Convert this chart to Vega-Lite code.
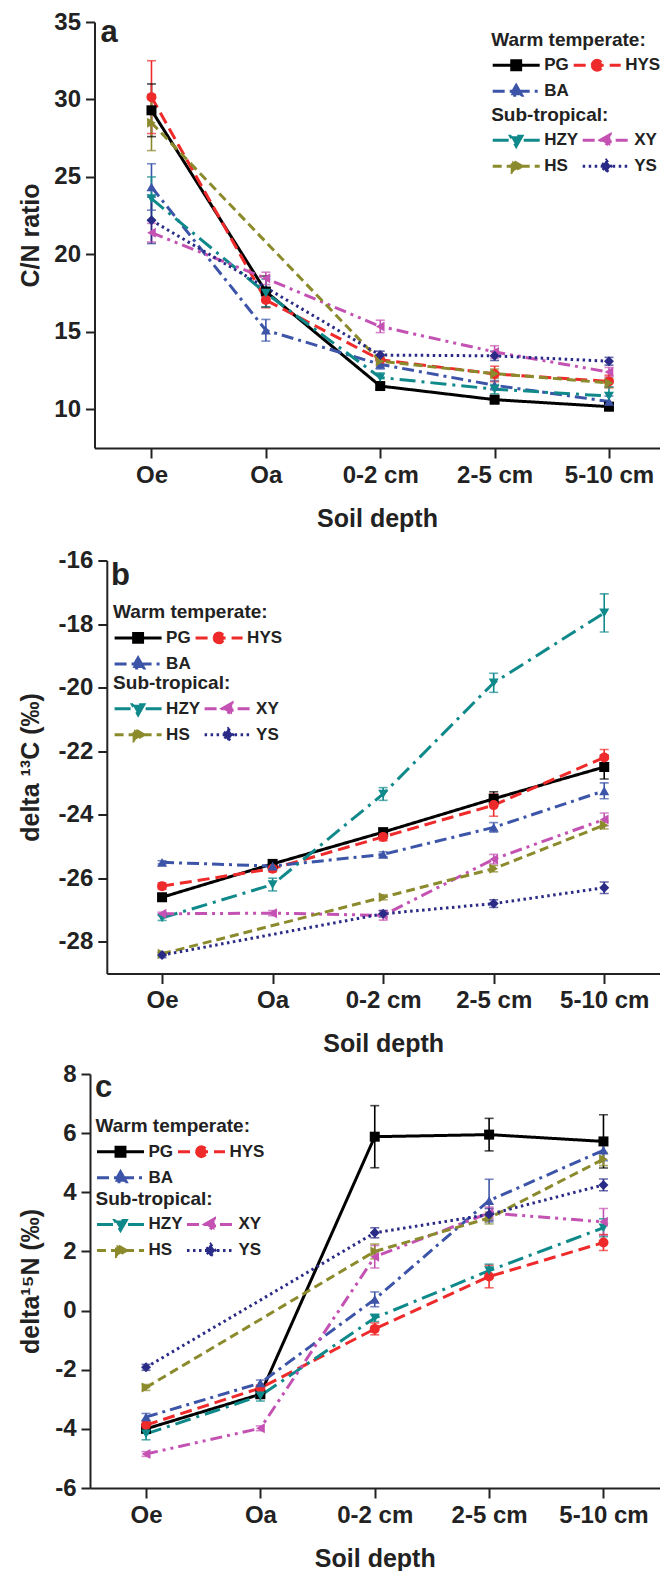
{
  "$schema": "https://vega.github.io/schema/vega-lite/v6.json",
  "padding": {"left": 17, "top": 10, "right": 0, "bottom": 0},
  "background": "white",
  "config": {
    "view": {"stroke": null},
    "font": "Liberation Sans",
    "axis": {"domainColor": "#222", "domainWidth": 2, "tickColor": "#222", "tickWidth": 2, "labelFont": "Liberation Sans", "labelFontWeight": "bold", "labelColor": "#222", "labelFontSize": 24, "titleFont": "Liberation Sans", "titleFontWeight": "bold", "titleColor": "#222", "titleFontSize": 25, "grid": false},
    "axisX": {"tickSize": 10, "labelPadding": 5, "titlePadding": 19, "labelAngle": 0},
    "axisY": {"tickSize": 9, "labelPadding": 5, "titleAngle": 270, "titleBaseline": "alphabetic"},
    "legend": {"padding": 0, "columns": 2, "symbolDirection": "horizontal", "columnPadding": 3, "rowPadding": 8, "clipHeight": 18, "symbolSize": 2209, "symbolStrokeWidth": 3, "symbolOpacity": 1, "labelOffset": 3, "labelFontSize": 17, "labelFont": "Liberation Sans", "labelFontWeight": "bold", "labelColor": "#222", "titleFontSize": 19, "titleFont": "Liberation Sans", "titleFontWeight": "bold", "titleColor": "#222", "titlePadding": 6.8, "titleLimit": 400, "labelLimit": 200}
  },
  "datasets": {
    "cn": [
      {"site": "PG", "depth": "Oe", "mean": 29.3, "lo": 27.6, "hi": 31.0},
      {"site": "PG", "depth": "Oa", "mean": 17.6, "lo": 16.6, "hi": 18.6},
      {"site": "PG", "depth": "0-2 cm", "mean": 11.5, "lo": 11.3, "hi": 11.7},
      {"site": "PG", "depth": "2-5 cm", "mean": 10.62, "lo": 10.37, "hi": 10.87},
      {"site": "PG", "depth": "5-10 cm", "mean": 10.17, "lo": 9.92, "hi": 10.42},
      {"site": "HYS", "depth": "Oe", "mean": 30.15, "lo": 27.8, "hi": 32.5},
      {"site": "HYS", "depth": "Oa", "mean": 17.05, "lo": 16.55, "hi": 17.55},
      {"site": "HYS", "depth": "0-2 cm", "mean": 13.2, "lo": 12.9, "hi": 13.5},
      {"site": "HYS", "depth": "2-5 cm", "mean": 12.28, "lo": 11.78, "hi": 12.78},
      {"site": "HYS", "depth": "5-10 cm", "mean": 11.8, "lo": 11.4, "hi": 12.2},
      {"site": "BA", "depth": "Oe", "mean": 24.35, "lo": 22.85, "hi": 25.85},
      {"site": "BA", "depth": "Oa", "mean": 15.1, "lo": 14.4, "hi": 15.8},
      {"site": "BA", "depth": "0-2 cm", "mean": 12.9, "lo": 12.6, "hi": 13.2},
      {"site": "BA", "depth": "2-5 cm", "mean": 11.55, "lo": 11.25, "hi": 11.85},
      {"site": "BA", "depth": "5-10 cm", "mean": 10.5, "lo": 10.15, "hi": 10.85},
      {"site": "HZY", "depth": "Oe", "mean": 23.6, "lo": 22.2, "hi": 25.0},
      {"site": "HZY", "depth": "Oa", "mean": 17.5, "lo": 16.6, "hi": 18.4},
      {"site": "HZY", "depth": "0-2 cm", "mean": 12.05, "lo": 11.75, "hi": 12.35},
      {"site": "HZY", "depth": "2-5 cm", "mean": 11.3, "lo": 11.0, "hi": 11.6},
      {"site": "HZY", "depth": "5-10 cm", "mean": 10.85, "lo": 10.25, "hi": 11.45},
      {"site": "XY", "depth": "Oe", "mean": 21.4, "lo": 20.8, "hi": 22.0},
      {"site": "XY", "depth": "Oa", "mean": 18.45, "lo": 18.05, "hi": 18.85},
      {"site": "XY", "depth": "0-2 cm", "mean": 15.35, "lo": 14.95, "hi": 15.75},
      {"site": "XY", "depth": "2-5 cm", "mean": 13.7, "lo": 13.3, "hi": 14.1},
      {"site": "XY", "depth": "5-10 cm", "mean": 12.4, "lo": 12.1, "hi": 12.7},
      {"site": "HS", "depth": "Oe", "mean": 28.5, "lo": 26.7, "hi": 30.3},
      {"site": "HS", "depth": "0-2 cm", "mean": 13.1, "lo": 12.8, "hi": 13.4},
      {"site": "HS", "depth": "2-5 cm", "mean": 12.3, "lo": 12.0, "hi": 12.6},
      {"site": "HS", "depth": "5-10 cm", "mean": 11.7, "lo": 11.4, "hi": 12.0},
      {"site": "YS", "depth": "Oe", "mean": 22.2, "lo": 20.7, "hi": 23.7},
      {"site": "YS", "depth": "0-2 cm", "mean": 13.5, "lo": 13.25, "hi": 13.75},
      {"site": "YS", "depth": "2-5 cm", "mean": 13.45, "lo": 13.15, "hi": 13.75},
      {"site": "YS", "depth": "5-10 cm", "mean": 13.1, "lo": 12.85, "hi": 13.35}
    ],
    "c13": [
      {"site": "PG", "depth": "Oe", "mean": -26.6, "lo": -26.7, "hi": -26.5},
      {"site": "PG", "depth": "Oa", "mean": -25.55, "lo": -25.63, "hi": -25.47},
      {"site": "PG", "depth": "0-2 cm", "mean": -24.55, "lo": -24.65, "hi": -24.45},
      {"site": "PG", "depth": "2-5 cm", "mean": -23.5, "lo": -23.72, "hi": -23.28},
      {"site": "PG", "depth": "5-10 cm", "mean": -22.5, "lo": -22.88, "hi": -22.12},
      {"site": "HYS", "depth": "Oe", "mean": -26.25, "lo": -26.35, "hi": -26.15},
      {"site": "HYS", "depth": "Oa", "mean": -25.7, "lo": -25.8, "hi": -25.6},
      {"site": "HYS", "depth": "0-2 cm", "mean": -24.7, "lo": -24.82, "hi": -24.58},
      {"site": "HYS", "depth": "2-5 cm", "mean": -23.7, "lo": -24.05, "hi": -23.35},
      {"site": "HYS", "depth": "5-10 cm", "mean": -22.2, "lo": -22.45, "hi": -21.95},
      {"site": "BA", "depth": "Oe", "mean": -25.5, "lo": -25.55, "hi": -25.45},
      {"site": "BA", "depth": "Oa", "mean": -25.62, "lo": -25.7, "hi": -25.54},
      {"site": "BA", "depth": "0-2 cm", "mean": -25.25, "lo": -25.33, "hi": -25.17},
      {"site": "BA", "depth": "2-5 cm", "mean": -24.4, "lo": -24.55, "hi": -24.25},
      {"site": "BA", "depth": "5-10 cm", "mean": -23.25, "lo": -23.5, "hi": -23.0},
      {"site": "HZY", "depth": "Oe", "mean": -27.25, "lo": -27.33, "hi": -27.17},
      {"site": "HZY", "depth": "Oa", "mean": -26.2, "lo": -26.4, "hi": -26.0},
      {"site": "HZY", "depth": "0-2 cm", "mean": -23.35, "lo": -23.55, "hi": -23.15},
      {"site": "HZY", "depth": "2-5 cm", "mean": -19.85, "lo": -20.15, "hi": -19.55},
      {"site": "HZY", "depth": "5-10 cm", "mean": -17.65, "lo": -18.25, "hi": -17.05},
      {"site": "XY", "depth": "Oe", "mean": -27.12, "lo": -27.17, "hi": -27.07},
      {"site": "XY", "depth": "Oa", "mean": -27.1, "lo": -27.18, "hi": -27.02},
      {"site": "XY", "depth": "0-2 cm", "mean": -27.17, "lo": -27.32, "hi": -27.02},
      {"site": "XY", "depth": "2-5 cm", "mean": -25.4, "lo": -25.55, "hi": -25.25},
      {"site": "XY", "depth": "5-10 cm", "mean": -24.15, "lo": -24.35, "hi": -23.95},
      {"site": "HS", "depth": "Oe", "mean": -28.38, "lo": -28.43, "hi": -28.33},
      {"site": "HS", "depth": "0-2 cm", "mean": -26.6, "lo": -26.68, "hi": -26.52},
      {"site": "HS", "depth": "2-5 cm", "mean": -25.7, "lo": -25.8, "hi": -25.6},
      {"site": "HS", "depth": "5-10 cm", "mean": -24.33, "lo": -24.45, "hi": -24.21},
      {"site": "YS", "depth": "Oe", "mean": -28.42, "lo": -28.5, "hi": -28.34},
      {"site": "YS", "depth": "0-2 cm", "mean": -27.12, "lo": -27.22, "hi": -27.02},
      {"site": "YS", "depth": "2-5 cm", "mean": -26.8, "lo": -26.92, "hi": -26.68},
      {"site": "YS", "depth": "5-10 cm", "mean": -26.3, "lo": -26.48, "hi": -26.12}
    ],
    "n15": [
      {"site": "PG", "depth": "Oe", "mean": -4.0, "lo": -4.1, "hi": -3.9},
      {"site": "PG", "depth": "Oa", "mean": -2.83, "lo": -2.95, "hi": -2.71},
      {"site": "PG", "depth": "0-2 cm", "mean": 5.88, "lo": 4.83, "hi": 6.93},
      {"site": "PG", "depth": "2-5 cm", "mean": 5.95, "lo": 5.4, "hi": 6.5},
      {"site": "PG", "depth": "5-10 cm", "mean": 5.72, "lo": 4.82, "hi": 6.62},
      {"site": "HYS", "depth": "Oe", "mean": -3.87, "lo": -3.99, "hi": -3.75},
      {"site": "HYS", "depth": "Oa", "mean": -2.62, "lo": -2.72, "hi": -2.52},
      {"site": "HYS", "depth": "0-2 cm", "mean": -0.62, "lo": -0.82, "hi": -0.42},
      {"site": "HYS", "depth": "2-5 cm", "mean": 1.15, "lo": 0.77, "hi": 1.53},
      {"site": "HYS", "depth": "5-10 cm", "mean": 2.3, "lo": 2.03, "hi": 2.57},
      {"site": "BA", "depth": "Oe", "mean": -3.6, "lo": -3.72, "hi": -3.48},
      {"site": "BA", "depth": "Oa", "mean": -2.45, "lo": -2.55, "hi": -2.35},
      {"site": "BA", "depth": "0-2 cm", "mean": 0.38, "lo": 0.13, "hi": 0.63},
      {"site": "BA", "depth": "2-5 cm", "mean": 3.72, "lo": 3.0, "hi": 4.44},
      {"site": "BA", "depth": "5-10 cm", "mean": 5.42, "lo": 5.07, "hi": 5.77},
      {"site": "HZY", "depth": "Oe", "mean": -4.17, "lo": -4.37, "hi": -3.97},
      {"site": "HZY", "depth": "Oa", "mean": -2.88, "lo": -3.06, "hi": -2.7},
      {"site": "HZY", "depth": "0-2 cm", "mean": -0.25, "lo": -0.37, "hi": -0.13},
      {"site": "HZY", "depth": "2-5 cm", "mean": 1.35, "lo": 1.13, "hi": 1.57},
      {"site": "HZY", "depth": "5-10 cm", "mean": 2.8, "lo": 2.5, "hi": 3.1},
      {"site": "XY", "depth": "Oe", "mean": -4.85, "lo": -4.93, "hi": -4.77},
      {"site": "XY", "depth": "Oa", "mean": -3.98, "lo": -4.06, "hi": -3.9},
      {"site": "XY", "depth": "0-2 cm", "mean": 1.82, "lo": 1.44, "hi": 2.2},
      {"site": "XY", "depth": "2-5 cm", "mean": 3.3, "lo": 3.1, "hi": 3.5},
      {"site": "XY", "depth": "5-10 cm", "mean": 3.0, "lo": 2.55, "hi": 3.45},
      {"site": "HS", "depth": "Oe", "mean": -2.6, "lo": -2.7, "hi": -2.5},
      {"site": "HS", "depth": "0-2 cm", "mean": 2.0, "lo": 1.75, "hi": 2.25},
      {"site": "HS", "depth": "2-5 cm", "mean": 3.13, "lo": 2.93, "hi": 3.33},
      {"site": "HS", "depth": "5-10 cm", "mean": 5.12, "lo": 4.9, "hi": 5.34},
      {"site": "YS", "depth": "Oe", "mean": -1.92, "lo": -2.02, "hi": -1.82},
      {"site": "YS", "depth": "0-2 cm", "mean": 2.63, "lo": 2.46, "hi": 2.8},
      {"site": "YS", "depth": "2-5 cm", "mean": 3.25, "lo": 3.05, "hi": 3.45},
      {"site": "YS", "depth": "5-10 cm", "mean": 4.25, "lo": 4.05, "hi": 4.45}
    ]
  },
  "concat": [
    {
      "width": 569.5, "height": 426,
      "data": {"name": "cn"},
      "encoding": {"x": {"field": "depth", "type": "ordinal", "scale": {"type": "point", "domain": ["Oe", "Oa", "0-2 cm", "2-5 cm", "5-10 cm"], "range": [4.5, 569.5], "padding": 0.47, "align": 0.53}, "axis": {"title": ["Soil depth", " "], "titleLineHeight": 11.6}}},
      "layer": [
        {"transform": [{"filter": {"field": "site", "oneOf": ["PG", "HYS", "BA"]}}],
         "mark": {"type": "point", "filled": true, "size": 1, "strokeWidth": 3, "opacity": 1},
         "encoding": {
           "y": {"field": "mean", "type": "quantitative", "scale": {"domain": [7.5, 35], "nice": false, "zero": false}, "axis": {"title": "C/N ratio", "values": [10, 15, 20, 25, 30, 35], "titleX": -56.5, "offset": -4.5}},
           "fill": {"field": "site", "type": "nominal", "scale": {"domain": ["PG", "HYS", "BA"], "range": ["#000000", "#ee2a2a", "#3d55a8"]}, "legend": {"title": "Warm temperate:", "orient": "none", "direction": "horizontal", "legendX": 401.2, "legendY": 8.5}},
           "stroke": {"field": "site", "type": "nominal", "scale": {"domain": ["PG", "HYS", "BA"], "range": ["#000000", "#ee2a2a", "#3d55a8"]}, "legend": {"title": "Warm temperate:", "orient": "none", "direction": "horizontal", "legendX": 401.2, "legendY": 8.5}},
           "shape": {"field": "site", "type": "nominal", "scale": {"domain": ["PG", "HYS", "BA"], "range": ["M-1,0H1M-0.19,-0.19H0.19V0.19H-0.19Z", "M-1,0H1M-0.21,0A0.21,0.21,0,1,1,0.21,0A0.21,0.21,0,1,1,-0.21,0Z", "M-1,0H1M0,-0.25L0.24,0.17H-0.24Z"]}, "legend": {"title": "Warm temperate:", "orient": "none", "direction": "horizontal", "legendX": 401.2, "legendY": 8.5}},
           "strokeDash": {"field": "site", "type": "nominal", "scale": {"domain": ["PG", "HYS", "BA"], "range": [[1, 0], [12, 6], [12, 5, 3, 5]]}, "legend": {"title": "Warm temperate:", "orient": "none", "direction": "horizontal", "legendX": 401.2, "legendY": 8.5}}
         }},
        {"transform": [{"filter": {"field": "site", "oneOf": ["HZY", "XY", "HS", "YS"]}}],
         "mark": {"type": "point", "filled": true, "size": 1, "strokeWidth": 3, "opacity": 1},
         "encoding": {
           "y": {"field": "mean", "type": "quantitative", "scale": {"domain": [7.5, 35], "nice": false, "zero": false}, "axis": {"title": "C/N ratio", "values": [10, 15, 20, 25, 30, 35], "titleX": -56.5, "offset": -4.5}},
           "fill": {"field": "site", "type": "nominal", "scale": {"domain": ["HZY", "XY", "HS", "YS"], "range": ["#10898b", "#c452b3", "#8b8a2c", "#2a2b86"]}, "legend": {"title": "Sub-tropical:", "orient": "none", "direction": "horizontal", "legendX": 401.2, "legendY": 83.5}},
           "stroke": {"field": "site", "type": "nominal", "scale": {"domain": ["HZY", "XY", "HS", "YS"], "range": ["#10898b", "#c452b3", "#8b8a2c", "#2a2b86"]}, "legend": {"title": "Sub-tropical:", "orient": "none", "direction": "horizontal", "legendX": 401.2, "legendY": 83.5}},
           "shape": {"field": "site", "type": "nominal", "scale": {"domain": ["HZY", "XY", "HS", "YS"], "range": ["M-1,0H1M0,0.25L0.24,-0.17H-0.24Z", "M-1,0H1M-0.25,0L0.17,-0.24V0.24Z", "M-1,0H1M0.25,0L-0.17,-0.24V0.24Z", "M-1,0H1M0,-0.25L0.2,0L0,0.25L-0.2,0Z"]}, "legend": {"title": "Sub-tropical:", "orient": "none", "direction": "horizontal", "legendX": 401.2, "legendY": 83.5}},
           "strokeDash": {"field": "site", "type": "nominal", "scale": {"domain": ["HZY", "XY", "HS", "YS"], "range": [[16, 6, 3, 6], [12, 5, 3, 5, 3, 5], [9, 5], [2.5, 3.5]]}, "legend": {"title": "Sub-tropical:", "orient": "none", "direction": "horizontal", "legendX": 401.2, "legendY": 83.5}}
         }},
        {"mark": {"type": "rule", "strokeWidth": 1.6},
         "encoding": {
           "y": {"field": "lo", "type": "quantitative", "scale": {"domain": [7.5, 35], "nice": false, "zero": false}, "axis": {"title": "C/N ratio", "values": [10, 15, 20, 25, 30, 35], "titleX": -56.5, "offset": -4.5}},
           "y2": {"field": "hi"},
           "color": {"field": "site", "type": "nominal", "scale": {"domain": ["PG", "HYS", "BA", "HZY", "XY", "HS", "YS"], "range": ["#000000", "#ee2a2a", "#3d55a8", "#10898b", "#c452b3", "#8b8a2c", "#2a2b86"]}, "legend": null}
         }},
        {"mark": {"type": "tick", "orient": "horizontal", "size": 9, "thickness": 1.6},
         "encoding": {
           "y": {"field": "lo", "type": "quantitative", "scale": {"domain": [7.5, 35], "nice": false, "zero": false}, "axis": {"title": "C/N ratio", "values": [10, 15, 20, 25, 30, 35], "titleX": -56.5, "offset": -4.5}},
           "color": {"field": "site", "type": "nominal", "scale": {"domain": ["PG", "HYS", "BA", "HZY", "XY", "HS", "YS"], "range": ["#000000", "#ee2a2a", "#3d55a8", "#10898b", "#c452b3", "#8b8a2c", "#2a2b86"]}, "legend": null}
         }},
        {"mark": {"type": "tick", "orient": "horizontal", "size": 9, "thickness": 1.6},
         "encoding": {
           "y": {"field": "hi", "type": "quantitative", "scale": {"domain": [7.5, 35], "nice": false, "zero": false}, "axis": {"title": "C/N ratio", "values": [10, 15, 20, 25, 30, 35], "titleX": -56.5, "offset": -4.5}},
           "color": {"field": "site", "type": "nominal", "scale": {"domain": ["PG", "HYS", "BA", "HZY", "XY", "HS", "YS"], "range": ["#000000", "#ee2a2a", "#3d55a8", "#10898b", "#c452b3", "#8b8a2c", "#2a2b86"]}, "legend": null}
         }},
        {"transform": [{"calculate": "indexof(['Oe','Oa','0-2 cm','2-5 cm','5-10 cm'], datum.depth)", "as": "k"}],
         "mark": {"type": "line", "strokeWidth": 3},
         "encoding": {
           "y": {"field": "mean", "type": "quantitative", "scale": {"domain": [7.5, 35], "nice": false, "zero": false}, "axis": {"title": "C/N ratio", "values": [10, 15, 20, 25, 30, 35], "titleX": -56.5, "offset": -4.5}},
           "order": {"field": "k", "type": "quantitative"},
           "color": {"field": "site", "type": "nominal", "scale": {"domain": ["PG", "HYS", "BA", "HZY", "XY", "HS", "YS"], "range": ["#000000", "#ee2a2a", "#3d55a8", "#10898b", "#c452b3", "#8b8a2c", "#2a2b86"]}, "legend": null},
           "strokeDash": {"field": "site", "type": "nominal", "scale": {"domain": ["PG", "HYS", "BA", "HZY", "XY", "HS", "YS"], "range": [[1, 0], [12, 6], [12, 5, 3, 5], [16, 6, 3, 6], [12, 5, 3, 5, 3, 5], [9, 5], [2.5, 3.5]]}, "legend": null}
         }},
        {"mark": {"type": "point", "filled": true, "size": 100, "opacity": 1},
         "encoding": {
           "y": {"field": "mean", "type": "quantitative", "scale": {"domain": [7.5, 35], "nice": false, "zero": false}, "axis": {"title": "C/N ratio", "values": [10, 15, 20, 25, 30, 35], "titleX": -56.5, "offset": -4.5}},
           "color": {"field": "site", "type": "nominal", "scale": {"domain": ["PG", "HYS", "BA", "HZY", "XY", "HS", "YS"], "range": ["#000000", "#ee2a2a", "#3d55a8", "#10898b", "#c452b3", "#8b8a2c", "#2a2b86"]}, "legend": null},
           "shape": {"field": "site", "type": "nominal", "scale": {"domain": ["PG", "HYS", "BA", "HZY", "XY", "HS", "YS"], "range": ["square", "circle", "triangle-up", "triangle-down", "triangle-left", "triangle-right", "diamond"]}, "legend": null}
         }},
        {"data": {"values": [{"panel": "a"}]},
         "mark": {"type": "text", "align": "left", "baseline": "alphabetic", "dx": -51, "dy": 20, "fontSize": 31, "fontWeight": "bold", "font": "Liberation Sans", "color": "#222"},
         "encoding": {
           "x": {"datum": "Oe", "type": "ordinal"},
           "y": {"datum": 35, "type": "quantitative", "scale": {"domain": [7.5, 35], "nice": false, "zero": false}, "axis": {"title": "C/N ratio", "values": [10, 15, 20, 25, 30, 35], "titleX": -56.5, "offset": -4.5}},
           "text": {"field": "panel"}
         }}
      ],
      "resolve": {"scale": {"color": "independent", "fill": "independent", "stroke": "independent", "shape": "independent", "strokeDash": "independent"}, "legend": {"color": "independent", "fill": "independent", "stroke": "independent", "shape": "independent", "strokeDash": "independent"}}
    },
    {
      "width": 569.5, "height": 413,
      "data": {"name": "c13"},
      "encoding": {"x": {"field": "depth", "type": "ordinal", "scale": {"type": "point", "domain": ["Oe", "Oa", "0-2 cm", "2-5 cm", "5-10 cm"], "range": [16.8, 569.5], "padding": 0.5}, "axis": {"title": "Soil depth"}}},
      "layer": [
        {"transform": [{"filter": {"field": "site", "oneOf": ["PG", "HYS", "BA"]}}],
         "mark": {"type": "point", "filled": true, "size": 1, "strokeWidth": 3, "opacity": 1},
         "encoding": {
           "y": {"field": "mean", "type": "quantitative", "scale": {"domain": [-29, -16], "nice": false, "zero": false}, "axis": {"title": "delta ¹³C (‰)", "values": [-28, -26, -24, -22, -20, -18, -16], "titleX": -68.8, "offset": -16.8, "labelExpr": "toString(datum.value)"}},
           "fill": {"field": "site", "type": "nominal", "scale": {"domain": ["PG", "HYS", "BA"], "range": ["#000000", "#ee2a2a", "#3d55a8"]}, "legend": {"title": "Warm temperate:", "orient": "none", "direction": "horizontal", "legendX": 23.1, "legendY": 42.6}},
           "stroke": {"field": "site", "type": "nominal", "scale": {"domain": ["PG", "HYS", "BA"], "range": ["#000000", "#ee2a2a", "#3d55a8"]}, "legend": {"title": "Warm temperate:", "orient": "none", "direction": "horizontal", "legendX": 23.1, "legendY": 42.6}},
           "shape": {"field": "site", "type": "nominal", "scale": {"domain": ["PG", "HYS", "BA"], "range": ["M-1,0H1M-0.19,-0.19H0.19V0.19H-0.19Z", "M-1,0H1M-0.21,0A0.21,0.21,0,1,1,0.21,0A0.21,0.21,0,1,1,-0.21,0Z", "M-1,0H1M0,-0.25L0.24,0.17H-0.24Z"]}, "legend": {"title": "Warm temperate:", "orient": "none", "direction": "horizontal", "legendX": 23.1, "legendY": 42.6}},
           "strokeDash": {"field": "site", "type": "nominal", "scale": {"domain": ["PG", "HYS", "BA"], "range": [[1, 0], [12, 6], [12, 5, 3, 5]]}, "legend": {"title": "Warm temperate:", "orient": "none", "direction": "horizontal", "legendX": 23.1, "legendY": 42.6}}
         }},
        {"transform": [{"filter": {"field": "site", "oneOf": ["HZY", "XY", "HS", "YS"]}}],
         "mark": {"type": "point", "filled": true, "size": 1, "strokeWidth": 3, "opacity": 1},
         "encoding": {
           "y": {"field": "mean", "type": "quantitative", "scale": {"domain": [-29, -16], "nice": false, "zero": false}, "axis": {"title": "delta ¹³C (‰)", "values": [-28, -26, -24, -22, -20, -18, -16], "titleX": -68.8, "offset": -16.8, "labelExpr": "toString(datum.value)"}},
           "fill": {"field": "site", "type": "nominal", "scale": {"domain": ["HZY", "XY", "HS", "YS"], "range": ["#10898b", "#c452b3", "#8b8a2c", "#2a2b86"]}, "legend": {"title": "Sub-tropical:", "orient": "none", "direction": "horizontal", "legendX": 23.1, "legendY": 113.5}},
           "stroke": {"field": "site", "type": "nominal", "scale": {"domain": ["HZY", "XY", "HS", "YS"], "range": ["#10898b", "#c452b3", "#8b8a2c", "#2a2b86"]}, "legend": {"title": "Sub-tropical:", "orient": "none", "direction": "horizontal", "legendX": 23.1, "legendY": 113.5}},
           "shape": {"field": "site", "type": "nominal", "scale": {"domain": ["HZY", "XY", "HS", "YS"], "range": ["M-1,0H1M0,0.25L0.24,-0.17H-0.24Z", "M-1,0H1M-0.25,0L0.17,-0.24V0.24Z", "M-1,0H1M0.25,0L-0.17,-0.24V0.24Z", "M-1,0H1M0,-0.25L0.2,0L0,0.25L-0.2,0Z"]}, "legend": {"title": "Sub-tropical:", "orient": "none", "direction": "horizontal", "legendX": 23.1, "legendY": 113.5}},
           "strokeDash": {"field": "site", "type": "nominal", "scale": {"domain": ["HZY", "XY", "HS", "YS"], "range": [[16, 6, 3, 6], [12, 5, 3, 5, 3, 5], [9, 5], [2.5, 3.5]]}, "legend": {"title": "Sub-tropical:", "orient": "none", "direction": "horizontal", "legendX": 23.1, "legendY": 113.5}}
         }},
        {"mark": {"type": "rule", "strokeWidth": 1.6},
         "encoding": {
           "y": {"field": "lo", "type": "quantitative", "scale": {"domain": [-29, -16], "nice": false, "zero": false}, "axis": {"title": "delta ¹³C (‰)", "values": [-28, -26, -24, -22, -20, -18, -16], "titleX": -68.8, "offset": -16.8, "labelExpr": "toString(datum.value)"}},
           "y2": {"field": "hi"},
           "color": {"field": "site", "type": "nominal", "scale": {"domain": ["PG", "HYS", "BA", "HZY", "XY", "HS", "YS"], "range": ["#000000", "#ee2a2a", "#3d55a8", "#10898b", "#c452b3", "#8b8a2c", "#2a2b86"]}, "legend": null}
         }},
        {"mark": {"type": "tick", "orient": "horizontal", "size": 9, "thickness": 1.6},
         "encoding": {
           "y": {"field": "lo", "type": "quantitative", "scale": {"domain": [-29, -16], "nice": false, "zero": false}, "axis": {"title": "delta ¹³C (‰)", "values": [-28, -26, -24, -22, -20, -18, -16], "titleX": -68.8, "offset": -16.8, "labelExpr": "toString(datum.value)"}},
           "color": {"field": "site", "type": "nominal", "scale": {"domain": ["PG", "HYS", "BA", "HZY", "XY", "HS", "YS"], "range": ["#000000", "#ee2a2a", "#3d55a8", "#10898b", "#c452b3", "#8b8a2c", "#2a2b86"]}, "legend": null}
         }},
        {"mark": {"type": "tick", "orient": "horizontal", "size": 9, "thickness": 1.6},
         "encoding": {
           "y": {"field": "hi", "type": "quantitative", "scale": {"domain": [-29, -16], "nice": false, "zero": false}, "axis": {"title": "delta ¹³C (‰)", "values": [-28, -26, -24, -22, -20, -18, -16], "titleX": -68.8, "offset": -16.8, "labelExpr": "toString(datum.value)"}},
           "color": {"field": "site", "type": "nominal", "scale": {"domain": ["PG", "HYS", "BA", "HZY", "XY", "HS", "YS"], "range": ["#000000", "#ee2a2a", "#3d55a8", "#10898b", "#c452b3", "#8b8a2c", "#2a2b86"]}, "legend": null}
         }},
        {"transform": [{"calculate": "indexof(['Oe','Oa','0-2 cm','2-5 cm','5-10 cm'], datum.depth)", "as": "k"}],
         "mark": {"type": "line", "strokeWidth": 3},
         "encoding": {
           "y": {"field": "mean", "type": "quantitative", "scale": {"domain": [-29, -16], "nice": false, "zero": false}, "axis": {"title": "delta ¹³C (‰)", "values": [-28, -26, -24, -22, -20, -18, -16], "titleX": -68.8, "offset": -16.8, "labelExpr": "toString(datum.value)"}},
           "order": {"field": "k", "type": "quantitative"},
           "color": {"field": "site", "type": "nominal", "scale": {"domain": ["PG", "HYS", "BA", "HZY", "XY", "HS", "YS"], "range": ["#000000", "#ee2a2a", "#3d55a8", "#10898b", "#c452b3", "#8b8a2c", "#2a2b86"]}, "legend": null},
           "strokeDash": {"field": "site", "type": "nominal", "scale": {"domain": ["PG", "HYS", "BA", "HZY", "XY", "HS", "YS"], "range": [[1, 0], [12, 6], [12, 5, 3, 5], [16, 6, 3, 6], [12, 5, 3, 5, 3, 5], [9, 5], [2.5, 3.5]]}, "legend": null}
         }},
        {"mark": {"type": "point", "filled": true, "size": 100, "opacity": 1},
         "encoding": {
           "y": {"field": "mean", "type": "quantitative", "scale": {"domain": [-29, -16], "nice": false, "zero": false}, "axis": {"title": "delta ¹³C (‰)", "values": [-28, -26, -24, -22, -20, -18, -16], "titleX": -68.8, "offset": -16.8, "labelExpr": "toString(datum.value)"}},
           "color": {"field": "site", "type": "nominal", "scale": {"domain": ["PG", "HYS", "BA", "HZY", "XY", "HS", "YS"], "range": ["#000000", "#ee2a2a", "#3d55a8", "#10898b", "#c452b3", "#8b8a2c", "#2a2b86"]}, "legend": null},
           "shape": {"field": "site", "type": "nominal", "scale": {"domain": ["PG", "HYS", "BA", "HZY", "XY", "HS", "YS"], "range": ["square", "circle", "triangle-up", "triangle-down", "triangle-left", "triangle-right", "diamond"]}, "legend": null}
         }},
        {"data": {"values": [{"panel": "b"}]},
         "mark": {"type": "text", "align": "left", "baseline": "alphabetic", "dx": -51, "dy": 24, "fontSize": 31, "fontWeight": "bold", "font": "Liberation Sans", "color": "#222"},
         "encoding": {
           "x": {"datum": "Oe", "type": "ordinal"},
           "y": {"datum": -16, "type": "quantitative", "scale": {"domain": [-29, -16], "nice": false, "zero": false}, "axis": {"title": "delta ¹³C (‰)", "values": [-28, -26, -24, -22, -20, -18, -16], "titleX": -68.8, "offset": -16.8, "labelExpr": "toString(datum.value)"}},
           "text": {"field": "panel"}
         }}
      ],
      "resolve": {"scale": {"color": "independent", "fill": "independent", "stroke": "independent", "shape": "independent", "strokeDash": "independent"}, "legend": {"color": "independent", "fill": "independent", "stroke": "independent", "shape": "independent", "strokeDash": "independent"}}
    },
    {
      "width": 569.5, "height": 414,
      "data": {"name": "n15"},
      "encoding": {"x": {"field": "depth", "type": "ordinal", "scale": {"type": "point", "domain": ["Oe", "Oa", "0-2 cm", "2-5 cm", "5-10 cm"], "range": [0, 569.5], "padding": 0.49}, "axis": {"title": "Soil depth"}}},
      "layer": [
        {"transform": [{"filter": {"field": "site", "oneOf": ["PG", "HYS", "BA"]}}],
         "mark": {"type": "point", "filled": true, "size": 1, "strokeWidth": 3, "opacity": 1},
         "encoding": {
           "y": {"field": "mean", "type": "quantitative", "scale": {"domain": [-6, 8], "nice": false, "zero": false}, "axis": {"title": "delta¹⁵N (‰)", "values": [-6, -4, -2, 0, 2, 4, 6, 8], "titleX": -52, "labelExpr": "toString(datum.value)"}},
           "fill": {"field": "site", "type": "nominal", "scale": {"domain": ["PG", "HYS", "BA"], "range": ["#000000", "#ee2a2a", "#3d55a8"]}, "legend": {"title": "Warm temperate:", "orient": "none", "direction": "horizontal", "legendX": 5.5, "legendY": 42.9}},
           "stroke": {"field": "site", "type": "nominal", "scale": {"domain": ["PG", "HYS", "BA"], "range": ["#000000", "#ee2a2a", "#3d55a8"]}, "legend": {"title": "Warm temperate:", "orient": "none", "direction": "horizontal", "legendX": 5.5, "legendY": 42.9}},
           "shape": {"field": "site", "type": "nominal", "scale": {"domain": ["PG", "HYS", "BA"], "range": ["M-1,0H1M-0.19,-0.19H0.19V0.19H-0.19Z", "M-1,0H1M-0.21,0A0.21,0.21,0,1,1,0.21,0A0.21,0.21,0,1,1,-0.21,0Z", "M-1,0H1M0,-0.25L0.24,0.17H-0.24Z"]}, "legend": {"title": "Warm temperate:", "orient": "none", "direction": "horizontal", "legendX": 5.5, "legendY": 42.9}},
           "strokeDash": {"field": "site", "type": "nominal", "scale": {"domain": ["PG", "HYS", "BA"], "range": [[1, 0], [12, 6], [12, 5, 3, 5]]}, "legend": {"title": "Warm temperate:", "orient": "none", "direction": "horizontal", "legendX": 5.5, "legendY": 42.9}}
         }},
        {"transform": [{"filter": {"field": "site", "oneOf": ["HZY", "XY", "HS", "YS"]}}],
         "mark": {"type": "point", "filled": true, "size": 1, "strokeWidth": 3, "opacity": 1},
         "encoding": {
           "y": {"field": "mean", "type": "quantitative", "scale": {"domain": [-6, 8], "nice": false, "zero": false}, "axis": {"title": "delta¹⁵N (‰)", "values": [-6, -4, -2, 0, 2, 4, 6, 8], "titleX": -52, "labelExpr": "toString(datum.value)"}},
           "fill": {"field": "site", "type": "nominal", "scale": {"domain": ["HZY", "XY", "HS", "YS"], "range": ["#10898b", "#c452b3", "#8b8a2c", "#2a2b86"]}, "legend": {"title": "Sub-tropical:", "orient": "none", "direction": "horizontal", "legendX": 5.5, "legendY": 115.6}},
           "stroke": {"field": "site", "type": "nominal", "scale": {"domain": ["HZY", "XY", "HS", "YS"], "range": ["#10898b", "#c452b3", "#8b8a2c", "#2a2b86"]}, "legend": {"title": "Sub-tropical:", "orient": "none", "direction": "horizontal", "legendX": 5.5, "legendY": 115.6}},
           "shape": {"field": "site", "type": "nominal", "scale": {"domain": ["HZY", "XY", "HS", "YS"], "range": ["M-1,0H1M0,0.25L0.24,-0.17H-0.24Z", "M-1,0H1M-0.25,0L0.17,-0.24V0.24Z", "M-1,0H1M0.25,0L-0.17,-0.24V0.24Z", "M-1,0H1M0,-0.25L0.2,0L0,0.25L-0.2,0Z"]}, "legend": {"title": "Sub-tropical:", "orient": "none", "direction": "horizontal", "legendX": 5.5, "legendY": 115.6}},
           "strokeDash": {"field": "site", "type": "nominal", "scale": {"domain": ["HZY", "XY", "HS", "YS"], "range": [[16, 6, 3, 6], [12, 5, 3, 5, 3, 5], [9, 5], [2.5, 3.5]]}, "legend": {"title": "Sub-tropical:", "orient": "none", "direction": "horizontal", "legendX": 5.5, "legendY": 115.6}}
         }},
        {"mark": {"type": "rule", "strokeWidth": 1.6},
         "encoding": {
           "y": {"field": "lo", "type": "quantitative", "scale": {"domain": [-6, 8], "nice": false, "zero": false}, "axis": {"title": "delta¹⁵N (‰)", "values": [-6, -4, -2, 0, 2, 4, 6, 8], "titleX": -52, "labelExpr": "toString(datum.value)"}},
           "y2": {"field": "hi"},
           "color": {"field": "site", "type": "nominal", "scale": {"domain": ["PG", "HYS", "BA", "HZY", "XY", "HS", "YS"], "range": ["#000000", "#ee2a2a", "#3d55a8", "#10898b", "#c452b3", "#8b8a2c", "#2a2b86"]}, "legend": null}
         }},
        {"mark": {"type": "tick", "orient": "horizontal", "size": 9, "thickness": 1.6},
         "encoding": {
           "y": {"field": "lo", "type": "quantitative", "scale": {"domain": [-6, 8], "nice": false, "zero": false}, "axis": {"title": "delta¹⁵N (‰)", "values": [-6, -4, -2, 0, 2, 4, 6, 8], "titleX": -52, "labelExpr": "toString(datum.value)"}},
           "color": {"field": "site", "type": "nominal", "scale": {"domain": ["PG", "HYS", "BA", "HZY", "XY", "HS", "YS"], "range": ["#000000", "#ee2a2a", "#3d55a8", "#10898b", "#c452b3", "#8b8a2c", "#2a2b86"]}, "legend": null}
         }},
        {"mark": {"type": "tick", "orient": "horizontal", "size": 9, "thickness": 1.6},
         "encoding": {
           "y": {"field": "hi", "type": "quantitative", "scale": {"domain": [-6, 8], "nice": false, "zero": false}, "axis": {"title": "delta¹⁵N (‰)", "values": [-6, -4, -2, 0, 2, 4, 6, 8], "titleX": -52, "labelExpr": "toString(datum.value)"}},
           "color": {"field": "site", "type": "nominal", "scale": {"domain": ["PG", "HYS", "BA", "HZY", "XY", "HS", "YS"], "range": ["#000000", "#ee2a2a", "#3d55a8", "#10898b", "#c452b3", "#8b8a2c", "#2a2b86"]}, "legend": null}
         }},
        {"transform": [{"calculate": "indexof(['Oe','Oa','0-2 cm','2-5 cm','5-10 cm'], datum.depth)", "as": "k"}],
         "mark": {"type": "line", "strokeWidth": 3},
         "encoding": {
           "y": {"field": "mean", "type": "quantitative", "scale": {"domain": [-6, 8], "nice": false, "zero": false}, "axis": {"title": "delta¹⁵N (‰)", "values": [-6, -4, -2, 0, 2, 4, 6, 8], "titleX": -52, "labelExpr": "toString(datum.value)"}},
           "order": {"field": "k", "type": "quantitative"},
           "color": {"field": "site", "type": "nominal", "scale": {"domain": ["PG", "HYS", "BA", "HZY", "XY", "HS", "YS"], "range": ["#000000", "#ee2a2a", "#3d55a8", "#10898b", "#c452b3", "#8b8a2c", "#2a2b86"]}, "legend": null},
           "strokeDash": {"field": "site", "type": "nominal", "scale": {"domain": ["PG", "HYS", "BA", "HZY", "XY", "HS", "YS"], "range": [[1, 0], [12, 6], [12, 5, 3, 5], [16, 6, 3, 6], [12, 5, 3, 5, 3, 5], [9, 5], [2.5, 3.5]]}, "legend": null}
         }},
        {"mark": {"type": "point", "filled": true, "size": 100, "opacity": 1},
         "encoding": {
           "y": {"field": "mean", "type": "quantitative", "scale": {"domain": [-6, 8], "nice": false, "zero": false}, "axis": {"title": "delta¹⁵N (‰)", "values": [-6, -4, -2, 0, 2, 4, 6, 8], "titleX": -52, "labelExpr": "toString(datum.value)"}},
           "color": {"field": "site", "type": "nominal", "scale": {"domain": ["PG", "HYS", "BA", "HZY", "XY", "HS", "YS"], "range": ["#000000", "#ee2a2a", "#3d55a8", "#10898b", "#c452b3", "#8b8a2c", "#2a2b86"]}, "legend": null},
           "shape": {"field": "site", "type": "nominal", "scale": {"domain": ["PG", "HYS", "BA", "HZY", "XY", "HS", "YS"], "range": ["square", "circle", "triangle-up", "triangle-down", "triangle-left", "triangle-right", "diamond"]}, "legend": null}
         }},
        {"data": {"values": [{"panel": "c"}]},
         "mark": {"type": "text", "align": "left", "baseline": "alphabetic", "dx": -51, "dy": 23, "fontSize": 31, "fontWeight": "bold", "font": "Liberation Sans", "color": "#222"},
         "encoding": {
           "x": {"datum": "Oe", "type": "ordinal"},
           "y": {"datum": 8, "type": "quantitative", "scale": {"domain": [-6, 8], "nice": false, "zero": false}, "axis": {"title": "delta¹⁵N (‰)", "values": [-6, -4, -2, 0, 2, 4, 6, 8], "titleX": -52, "labelExpr": "toString(datum.value)"}},
           "text": {"field": "panel"}
         }}
      ],
      "resolve": {"scale": {"color": "independent", "fill": "independent", "stroke": "independent", "shape": "independent", "strokeDash": "independent"}, "legend": {"color": "independent", "fill": "independent", "stroke": "independent", "shape": "independent", "strokeDash": "independent"}}
    }
  ],
  "columns": 1, "spacing": 5.5, "align": "none"
}
